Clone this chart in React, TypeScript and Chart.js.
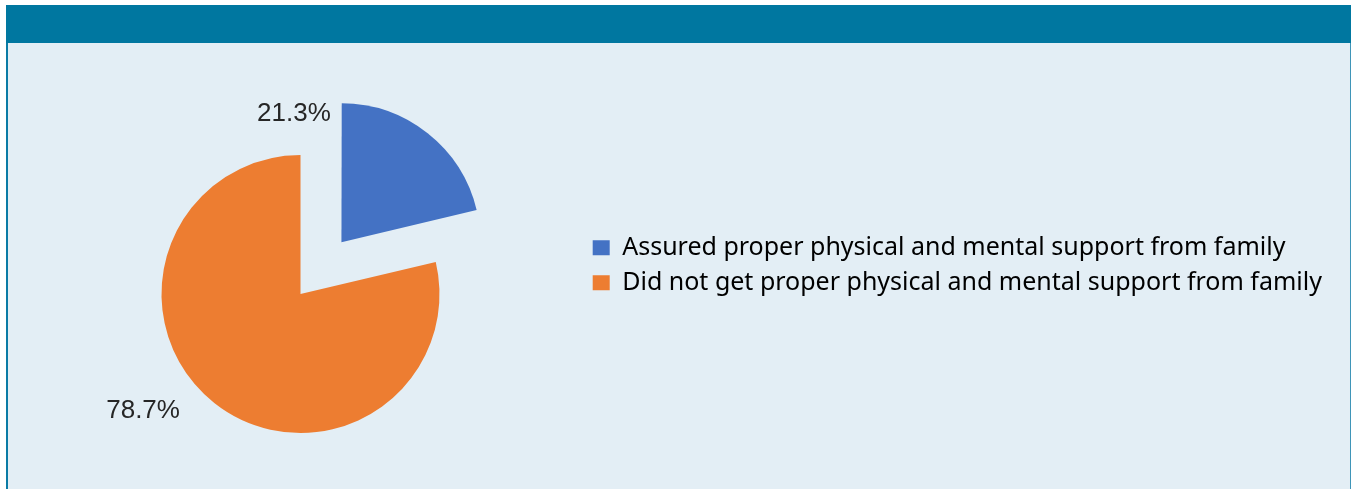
import React, { useEffect, useRef } from "react";
import { Chart, registerables } from "chart.js";

Chart.register(...registerables);

// ---- data ----
const categories = [
  "Assured proper physical and mental support from family",
  "Did not get proper physical and mental support from family",
];
const shares = [21.3, 78.7];
const percentLabels = ["21.3%", "78.7%"];
const sliceColors = ["#4472C4", "#ED7D31"];

// ---- geometry / style constants ----
const RADIUS = 139;
const EXPLODE = 264; // Chart.js arc offset (translated by offset/4)
const OFFSET_DIV = 4;
const labelPlacement = [
  { angle: -111.35, dist: 0.939 },
  { angle: 141.7, dist: 1.443 },
];

const pieLabels = {
  id: "pieLabels",
  beforeDatasetsDraw(chart: any) {
    const meta = chart.getDatasetMeta(0);
    meta.data.forEach((arc: any) => {
      const off = (arc.options.offset || 0) / OFFSET_DIV;
      const circ = arc.endAngle - arc.startAngle;
      const fix = 1 - Math.sin(Math.min(Math.PI, circ));
      arc.outerRadius = RADIUS - off * fix;
    });
  },
  afterDatasetsDraw(chart: any) {
    const ctx = chart.ctx;
    const meta = chart.getDatasetMeta(0);
    ctx.save();
    ctx.font = "26px 'Liberation Sans', Arial, sans-serif";
    ctx.fillStyle = "#262626";
    ctx.textAlign = "center";
    ctx.textBaseline = "alphabetic";
    meta.data.forEach((arc: any, i: number) => {
      const off = (arc.options.offset || 0) / OFFSET_DIV;
      const mid = (arc.startAngle + arc.endAngle) / 2;
      const cx = arc.x + Math.cos(mid) * off;
      const cy = arc.y + Math.sin(mid) * off;
      const p = labelPlacement[i];
      const a = (p.angle * Math.PI) / 180;
      const x = cx + Math.cos(a) * p.dist * RADIUS;
      const y = cy + Math.sin(a) * p.dist * RADIUS;
      ctx.fillText(percentLabels[i], x, y);
    });
    ctx.restore();
  },
};

function PieChart() {
  const ref = useRef<HTMLCanvasElement | null>(null);
  useEffect(() => {
    if (!ref.current) return;
    const chart = new Chart(ref.current, {
      type: "pie",
      data: {
        labels: categories,
        datasets: [
          {
            data: shares,
            backgroundColor: sliceColors,
            borderWidth: 0,
            offset: [EXPLODE, 0],
            radius: RADIUS,
            clip: false,
          } as any,
        ],
      },
      options: {
        responsive: false,
        animation: false,
        events: [],
        devicePixelRatio: 1,
        layout: {
          padding: { left: 10.3, right: 22.3, top: 182.3, bottom: 126.3 },
        },
        plugins: {
          tooltip: { enabled: false },
          title: { display: false },
          legend: {
            display: true,
            position: "right",
            align: "start",
            maxWidth: 744,
            labels: {
              boxWidth: 17,
              boxHeight: 15,
              padding: 10,
              color: "#000000",
              font: { family: "'Noto Sans', 'Open Sans', sans-serif", size: 25 },
            },
          },
        },
      } as any,
      plugins: [pieLabels],
    });
    return () => chart.destroy();
  }, []);
  return (
    <canvas
      ref={ref}
      width={1341}
      height={446}
      style={{ position: "absolute", left: 8, top: 43, width: 1341, height: 446 }}
    />
  );
}

export default function App() {
  return (
    <div
      style={{
        position: "fixed",
        left: 0,
        top: 0,
        width: 1351,
        height: 489,
        background: "#FFFFFF",
        overflow: "hidden",
      }}
    >
      <div
        style={{
          position: "absolute",
          left: 6,
          top: 5,
          width: 1345,
          height: 38,
          background: "#0077A0",
        }}
      />
      <div
        style={{
          position: "absolute",
          left: 6,
          top: 43,
          width: 1342,
          height: 446,
          background: "#E3EEF5",
          borderLeft: "2px solid #0A7BA5",
          borderRight: "1px solid #3F95B8",
        }}
      />
      <PieChart />
    </div>
  );
}
